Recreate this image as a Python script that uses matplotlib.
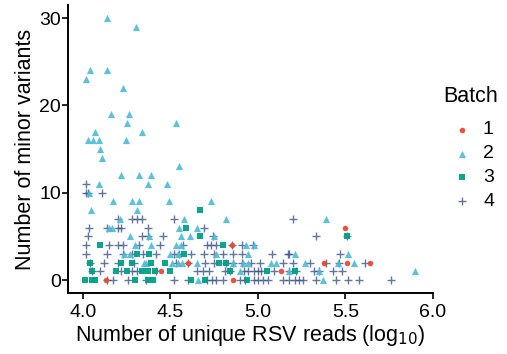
import matplotlib
matplotlib.use("Agg")
import matplotlib.pyplot as plt
import numpy as np

plt.rcParams['font.family'] = ['Liberation Sans', 'DejaVu Sans']

# Batch colours (npg-like palette)
batches = ["1", "2", "3", "4"]
colors = {"1": "#E64B35", "2": "#4DBBD5", "3": "#00A087", "4": "#3C5488"}

# Batch 1 (red dots)
b1_x = [4.13, 4.445, 4.60, 4.85, 4.86, 5.13, 5.38, 5.50, 5.51, 5.64]
b1_y = [0, 1, 2, 4, 0, 1, 2, 6, 2, 2]

# Batch 2 (triangles)
b2_x = [4.14, 4.305, 4.04, 4.14, 4.02, 4.23, 4.16, 4.265, 4.25, 4.53,
        4.07, 4.34, 4.03, 4.06, 4.09, 4.245, 4.10, 4.11, 4.55, 4.215,
        4.32, 4.39, 4.09, 4.37, 4.48, 4.035, 4.17, 4.28, 4.32, 4.49,
        4.73, 4.045, 4.31, 4.21, 4.58, 4.82, 5.39, 4.15, 4.165, 4.55,
        4.65,
        4.27, 4.38, 4.56, 4.61, 4.75,
        4.30, 4.39, 4.53, 4.56, 4.93, 4.98,
        4.235, 4.27, 4.50, 4.545, 4.76, 4.945, 5.21, 5.515,
        4.35, 4.36, 4.51, 4.545, 4.565, 4.65, 4.86, 4.915, 4.945, 5.075,
        5.105, 5.27, 5.46, 5.55,
        4.90, 5.18, 5.35, 5.90,
        4.66, 5.37]
b2_y = [30, 29, 24, 24, 23, 22, 19, 19, 18, 18,
        17, 17, 16, 16, 16, 16, 15, 14, 13, 12,
        12, 12, 11, 11, 11, 10, 9, 9, 9, 9,
        9, 8, 8, 7, 7, 7, 7, 6, 6, 6,
        6,
        5, 5, 5, 5, 5,
        4, 4, 4, 4, 4, 4,
        3, 3, 3, 3, 3, 3, 3, 3,
        2, 2, 2, 2, 2, 2, 2, 2, 2, 2,
        2, 2, 2, 2,
        1, 1, 1, 1,
        0, 0]

# Batch 3 (squares)
b3_x = [4.01, 4.05, 4.07, 4.30, 4.37, 4.40, 4.62, 4.70, 4.935,
        4.05, 4.19, 4.25, 4.34, 4.37, 4.41, 4.50, 4.84, 5.05, 5.21,
        4.04, 4.22, 4.28, 4.39, 4.47, 4.78, 4.82,
        4.31, 4.38, 4.58,
        4.10, 4.80,
        4.67, 5.51,
        4.59,
        4.67]
b3_y = [0, 0, 0, 0, 0, 0, 0, 0, 0,
        1, 1, 1, 1, 1, 1, 1, 1, 1, 1,
        2, 2, 2, 2, 2, 2, 2,
        3, 3, 3,
        4, 4,
        5, 5,
        6,
        8]

# Batch 4 (plus signs)
b4_x = [4.02,
        4.02, 4.03, 4.11,
        4.20, 4.28, 4.31, 4.34, 4.52, 5.20,
        4.035, 4.135, 4.20, 4.22, 4.37, 4.69,
        4.03, 4.34, 4.37, 4.46, 4.745, 5.33, 5.51,
        4.02, 4.15, 4.20, 4.23, 4.32, 4.44, 4.57, 4.71, 4.73, 4.76,
        4.85, 4.91, 4.97,
        4.02, 4.14, 4.23, 4.28, 4.345, 4.42, 4.52, 4.55, 4.62, 4.69,
        4.75, 4.80, 4.86, 4.91, 5.08, 5.17, 5.18, 5.47,
        4.04, 4.12, 4.20, 4.29, 4.53, 4.60, 4.70, 4.75, 4.82, 4.86,
        4.91, 4.96, 5.01, 5.145, 5.20, 5.30, 5.39, 5.465, 5.61,
        4.05, 4.10, 4.22, 4.28, 4.31, 4.42, 4.65, 4.685, 4.72, 4.81,
        4.84, 4.92, 4.945, 4.975, 5.00, 5.02, 5.09, 5.18, 5.22, 5.32,
        5.35, 5.43, 5.48,
        4.14, 4.17, 4.26, 4.36, 4.52, 4.60, 4.71, 4.735, 4.76, 4.80,
        4.90, 4.925, 4.98, 5.00, 5.03, 5.06, 5.145, 5.18, 5.21, 5.235,
        5.26, 5.33, 5.445, 5.515, 5.58, 5.76]
b4_y = [11,
        10, 10, 10,
        7, 7, 7, 7, 7, 7,
        6, 6, 6, 6, 6, 6,
        5, 5, 5, 5, 5, 5, 5,
        4, 4, 4, 4, 4, 4, 4, 4, 4, 4,
        4, 4, 4,
        3, 3, 3, 3, 3, 3, 3, 3, 3, 3,
        3, 3, 3, 3, 3, 3, 3, 3,
        2, 2, 2, 2, 2, 2, 2, 2, 2, 2,
        2, 2, 2, 2, 2, 2, 2, 2, 2,
        1, 1, 1, 1, 1, 1, 1, 1, 1, 1,
        1, 1, 1, 1, 1, 1, 1, 1, 1, 1,
        1, 1, 1,
        0, 0, 0, 0, 0, 0, 0, 0, 0, 0,
        0, 0, 0, 0, 0, 0, 0, 0, 0, 0,
        0, 0, 0, 0, 0, 0]

x_ticks = [4.0, 4.5, 5.0, 5.5, 6.0]
x_ticklabels = ["4.0", "4.5", "5.0", "5.5", "6.0"]
y_ticks = [0, 10, 20, 30]

# marker styles per batch (ggplot shapes 16, 17, 15, 3)
styles = {
    "1": dict(marker='o', s=16, linewidths=0, alpha=0.95),
    "2": dict(marker='^', s=27, linewidths=0, alpha=0.9),
    "3": dict(marker='s', s=22, linewidths=0, alpha=0.95),
    "4": dict(marker='+', s=40, linewidths=1.0, alpha=0.8),
}

fig = plt.figure(figsize=(5.07, 3.54), dpi=100)
ax = fig.add_axes([0.134, 0.172, 0.72, 0.814])

ax.scatter(b4_x, b4_y, color=colors["4"], zorder=2, **styles["4"])
ax.scatter(b2_x, b2_y, color=colors["2"], zorder=2, **styles["2"])
ax.scatter(b3_x, b3_y, color=colors["3"], zorder=2, **styles["3"])
ax.scatter(b1_x, b1_y, color=colors["1"], zorder=3, **styles["1"])

ax.set_xlim(3.914, 6.0)
ax.set_ylim(-1.5, 31.5)
ax.set_xticks(x_ticks)
ax.set_xticklabels(x_ticklabels)
ax.set_yticks(y_ticks)

for side in ["top", "right"]:
    ax.spines[side].set_visible(False)
for side in ["left", "bottom"]:
    ax.spines[side].set_linewidth(1.4)
ax.tick_params(direction='out', length=4, width=1.2, labelsize=14, colors='black')
ax.tick_params(axis='x', pad=4)
ax.tick_params(axis='y', pad=1)

ax.set_xlabel("Number of unique RSV reads (log$_{10}$)", fontsize=15.5, labelpad=1)
ax.set_ylabel("Number of minor variants", fontsize=15.5, labelpad=2)

# legend drawn on an overlay in pixel coordinates
lax = fig.add_axes([0, 0, 1, 1])
lax.set_xlim(0, 507)
lax.set_ylim(354, 0)
lax.axis('off')
lax.text(443, 97, "Batch", fontsize=15.5, va='center', ha='left')
leg_y = [130, 154, 177, 201]
for b, yy in zip(batches, leg_y):
    lax.scatter([462], [yy], color=colors[b], **styles[b])
    lax.text(483, yy, b, fontsize=14, va='center', ha='left')

plt.savefig("out.png", dpi=100)
